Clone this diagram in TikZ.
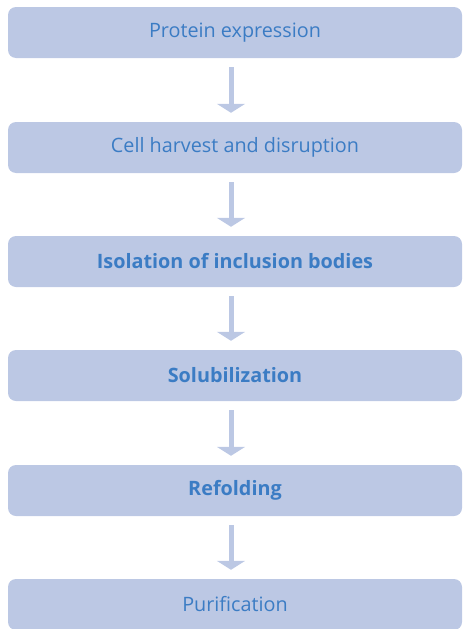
\documentclass[tikz,border=0pt]{standalone}
\usepackage{fontspec}
\setmainfont{Open Sans}
\usetikzlibrary{arrows.meta}
\definecolor{boxfill}{HTML}{BCC8E4}
\definecolor{boxtext}{HTML}{3B7CC4}

\begin{document}
\begin{tikzpicture}[x=1pt, y=-1pt,
  stepbox/.style={fill=boxfill, rounded corners=8pt, minimum width=454pt,
    minimum height=51pt, text=boxtext, font=\fontsize{19.8}{24}\selectfont},
  flow/.style={draw=boxfill, line width=5pt, shorten <=9pt, shorten >=9pt,
    -{Triangle[width=28pt, length=9pt]}}]
\useasboundingbox (0,0) rectangle (463,629);
% steps
\node[stepbox] (expr) at (235,32.5) {Protein expression};
\node[stepbox] (harv) at (235,147.5) {Cell harvest and disruption};
\node[stepbox] (isol) at (235,261.5) {\bfseries Isolation of inclusion bodies};
\node[stepbox] (solu) at (235,375.5) {\bfseries Solubilization};
\node[stepbox] (refo) at (235,490.5) {\bfseries Refolding};
\node[stepbox] (puri) at (235,604.5) {Purification};
% arrows
\draw[flow] ([xshift=-4pt]expr.south) -- ([xshift=-4pt]harv.north);
\draw[flow] ([xshift=-4pt]harv.south) -- ([xshift=-4pt]isol.north);
\draw[flow] ([xshift=-4pt]isol.south) -- ([xshift=-4pt]solu.north);
\draw[flow] ([xshift=-4pt]solu.south) -- ([xshift=-4pt]refo.north);
\draw[flow] ([xshift=-4pt]refo.south) -- ([xshift=-4pt]puri.north);
\end{tikzpicture}
\end{document}
